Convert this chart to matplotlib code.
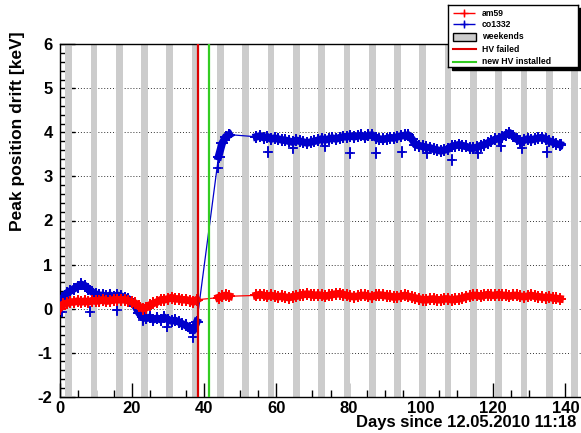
import matplotlib
matplotlib.use('Agg')
import matplotlib.pyplot as plt
from matplotlib.patches import Rectangle
from matplotlib.ticker import MultipleLocator

plt.rcParams['font.family'] = ['Liberation Sans', 'DejaVu Sans']
plt.rcParams['font.weight'] = 'bold'
plt.rcParams['axes.unicode_minus'] = False

# am59 / co1332 peak drift, three measuring periods
days1 = list(range(0, 39))
co_1 = [0.0, 0.25, 0.35, 0.4, 0.45, 0.5, 0.55, 0.52, 0.45, 0.38,
        0.33, 0.3, 0.3, 0.28, 0.3, 0.27, 0.3, 0.28, 0.25, 0.22,
        0.15, 0.05, -0.1, -0.2, -0.22, -0.2, -0.25, -0.22, -0.25, -0.2,
        -0.25, -0.28, -0.27, -0.3, -0.35, -0.38, -0.45, -0.5, -0.3]
am_1 = [0.0, 0.1, 0.12, 0.15, 0.15, 0.17, 0.15, 0.17, 0.15, 0.18,
        0.17, 0.18, 0.2, 0.17, 0.18, 0.2, 0.2, 0.2, 0.2, 0.18,
        0.15, 0.12, 0.05, 0.0, 0.02, 0.08, 0.12, 0.15, 0.2, 0.2,
        0.22, 0.25, 0.22, 0.22, 0.2, 0.2, 0.18, 0.15, 0.2]

days2 = [44, 45, 46, 47]
co_2 = [3.45, 3.75, 3.9, 3.95]
am_2 = [0.25, 0.28, 0.3, 0.28]

days3 = [d + 0.5 for d in range(54, 139)]
co_3 = [3.9, 3.92, 3.88, 3.9, 3.85, 3.87, 3.85, 3.83, 3.82, 3.8,
        3.78, 3.82, 3.8, 3.78, 3.76, 3.78, 3.8, 3.82, 3.85, 3.83,
        3.85, 3.87, 3.85, 3.88, 3.9, 3.9, 3.92, 3.9, 3.92, 3.93,
        3.9, 3.93, 3.94, 3.88, 3.85, 3.84, 3.86, 3.88, 3.87, 3.9,
        3.92, 3.93, 3.94, 3.85, 3.72, 3.7, 3.68, 3.66, 3.65, 3.62,
        3.6, 3.58, 3.6, 3.62, 3.68, 3.7, 3.72, 3.7, 3.68, 3.65,
        3.64, 3.66, 3.7, 3.72, 3.76, 3.8, 3.84, 3.86, 3.9, 3.95,
        3.99, 3.92, 3.85, 3.8, 3.82, 3.85, 3.83, 3.85, 3.87, 3.88,
        3.85, 3.8, 3.78, 3.74, 3.72]
am_3 = [0.3, 0.32, 0.3, 0.28, 0.3, 0.28, 0.27, 0.28, 0.26, 0.25,
        0.27, 0.28, 0.3, 0.32, 0.33, 0.32, 0.3, 0.31, 0.3, 0.28,
        0.3, 0.32, 0.33, 0.34, 0.32, 0.3, 0.28, 0.27, 0.28, 0.3,
        0.3, 0.28, 0.27, 0.3, 0.31, 0.3, 0.29, 0.28, 0.26, 0.27,
        0.28, 0.3, 0.28, 0.26, 0.24, 0.22, 0.2, 0.2, 0.21, 0.22,
        0.2, 0.2, 0.22, 0.22, 0.2, 0.21, 0.22, 0.24, 0.27, 0.28,
        0.3, 0.3, 0.28, 0.3, 0.32, 0.3, 0.3, 0.32, 0.3, 0.3,
        0.28, 0.3, 0.3, 0.28, 0.27, 0.28, 0.3, 0.28, 0.27, 0.26,
        0.25, 0.26, 0.24, 0.23, 0.22]

# co1332 calibration outliers
co_out_days = [0.6, 8.4, 15.8, 23.2, 29.7, 37.0, 43.9, 57.8, 64.7, 73.4,
               80.4, 87.7, 94.7, 101.6, 108.5, 115.8, 122.3, 127.9, 134.8, 138.9]
co_out_vals = [-0.07, -0.07, -0.03, -0.26, -0.41, -0.64, 3.2, 3.56, 3.64, 3.68,
               3.53, 3.53, 3.56, 3.53, 3.37, 3.53, 3.68, 3.64, 3.56, 3.73]

weekend_start = [1.6, 8.6, 15.6, 22.6, 29.6, 36.6, 43.6, 50.6, 57.6, 64.6,
                 71.6, 78.6, 85.6, 92.6, 99.6, 106.6, 113.6, 120.6, 127.6,
                 134.6, 141.6]
weekend_len = 1.85
hv_failed = 38.3
hv_new = 41.4

BLUE = '#0000cc'
RED = '#ff0000'
GREEN = '#33cc22'
GREY = '#cccccc'

fig = plt.figure(figsize=(5.81, 4.33), dpi=100)
ax = fig.add_axes([59.5 / 581, 36.3 / 433, 521.5 / 581, 352.4 / 433])

for s in weekend_start:
    ax.axvspan(s, s + weekend_len, color=GREY, lw=0, zorder=2)


def draw_series(segs, color, yerr, z):
    # thick band per measuring period, thin connector across the gaps
    for (d0, v0), (d1, v1) in zip(segs[:-1], segs[1:]):
        ax.plot([d0[-1], d1[0]], [v0[-1], v1[0]], color=color, lw=0.9, zorder=z)
    for d, v in segs:
        ax.plot(d, v, color=color, lw=5.5, zorder=z, solid_joinstyle='round')
        ax.errorbar(d, v, xerr=0.5, yerr=yerr, fmt='+', ms=8, color=color,
                    ecolor=color, elinewidth=1.4, mew=1.4, zorder=z)


draw_series([(days1, co_1), (days2, co_2), (days3, co_3)], BLUE, 0.12, 3)
ax.errorbar(co_out_days, co_out_vals, xerr=0.9, yerr=0.13, fmt='+', ms=7,
            color=BLUE, ecolor=BLUE, elinewidth=1.2, mew=1.2, zorder=3)
draw_series([(days1, am_1), (days2, am_2), (days3, am_3)], RED, 0.11, 4)

ax.axvline(hv_failed, color='#dd0000', lw=1.6, zorder=5)
ax.axvline(hv_new, color=GREEN, lw=1.6, zorder=5)

ax.set_xlim(0, 144.3)
ax.set_ylim(-2, 6)
ax.xaxis.set_major_locator(MultipleLocator(20))
ax.xaxis.set_minor_locator(MultipleLocator(5))
ax.yaxis.set_major_locator(MultipleLocator(1))
ax.yaxis.set_minor_locator(MultipleLocator(0.2))
ax.tick_params(which='both', direction='in', top=False, right=False,
               labelsize=12, width=1)
ax.tick_params(axis='y', which='major', length=11, pad=5)
ax.tick_params(axis='y', which='minor', length=6)
ax.tick_params(axis='x', which='major', length=10, pad=3)
ax.tick_params(axis='x', which='minor', length=5)
for lab in ax.get_xticklabels() + ax.get_yticklabels():
    lab.set_fontweight('bold')
ax.yaxis.grid(True, linestyle=(0, (1, 2)), color='#333333', lw=0.7)
ax.spines['right'].set_visible(False)
for sp in ['left', 'bottom', 'top']:
    ax.spines[sp].set_linewidth(1)

fig.text(576 / 581, 1 - 423 / 433, 'Days since 12.05.2010 11:18',
         ha='right', va='center', fontsize=12, fontweight='bold')
fig.text(18 / 581, 1 - 31 / 433, 'Peak position drift [keV]', rotation=90,
         ha='center', va='top', fontsize=12.5, fontweight='bold')

# legend box with shadow
shadow = Rectangle((451.5 / 581, 1 - 70 / 433), 130 / 581, 62 / 433,
                   transform=fig.transFigure, color='black', zorder=9)
fig.patches.append(shadow)
lax = fig.add_axes([448.3 / 581, 1 - 66.7 / 433, 130 / 581, 61.7 / 433], zorder=10)
lax.set_xlim(448.3, 578.3)
lax.set_ylim(66.7, 5)
lax.set_xticks([])
lax.set_yticks([])
for sp in lax.spines.values():
    sp.set_linewidth(1)

rows = [13.3, 24.5, 36.7, 49, 62]
labels = ['am59', 'co1332', 'weekends', 'HV failed', 'new HV installed']
lax.errorbar([464], [rows[0]], xerr=11, yerr=3, fmt='+', color=RED, ms=6,
             elinewidth=1, mew=1)
lax.errorbar([464], [rows[1]], xerr=11, yerr=3, fmt='+', color=BLUE, ms=6,
             elinewidth=1, mew=1)
lax.add_patch(Rectangle((453, rows[2] - 4), 23, 8, facecolor=GREY,
                        edgecolor='black', lw=1))
lax.plot([453, 476], [rows[3], rows[3]], color='#dd0000', lw=1.5)
lax.plot([453, 476], [rows[4], rows[4]], color=GREEN, lw=1.5)
for r, t in zip(rows, labels):
    lax.text(481.7, r, t, ha='left', va='center', fontsize=6.2,
             fontweight='bold')

fig.savefig('out.png', dpi=100)
